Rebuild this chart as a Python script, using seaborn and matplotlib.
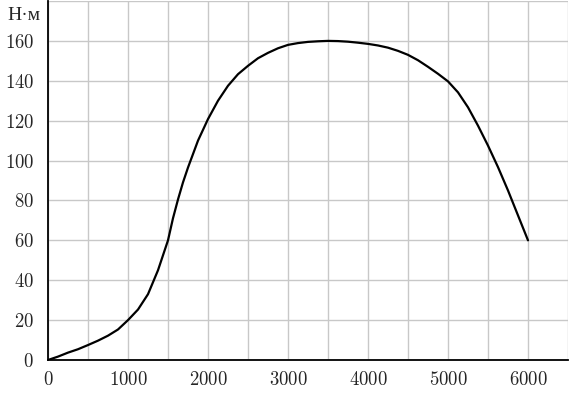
import numpy as np
import matplotlib
matplotlib.use('Agg')
import matplotlib.pyplot as plt
import seaborn as sns

# values every 125 rpm
rpm = [0, 125, 250, 375, 500, 625, 750, 875, 1000, 1125, 1250, 1375, 1500,
       1562, 1625, 1687, 1750, 1875, 2000, 2125, 2250, 2375, 2500, 2625, 2750,
       2875, 3000, 3125, 3250, 3375, 3500, 3625, 3750, 3875, 4000, 4125, 4250,
       4375, 4500, 4625, 4750, 4875, 5000, 5125, 5250, 5375, 5500, 5625,
       5750, 5875, 6000]
torque = [0, 1.7, 3.7, 5.4, 7.5, 9.7, 12.2, 15.3, 20, 25.3, 33, 45, 60,
          71, 80.5, 89, 96.5, 110, 120.8, 130, 137.5, 143.3, 147.5, 151.3, 154,
          156.3, 158, 158.9, 159.5, 159.8, 160, 159.9, 159.6, 159.1, 158.5, 157.7,
          156.6, 155, 153, 150.3, 147, 143.5, 139.7, 134.2, 126.7, 117.5, 107.5,
          96.7, 85, 72.5, 60]

x_ticks = [0, 1000, 2000, 3000, 4000, 5000, 6000]
y_ticks = [0, 20, 40, 60, 80, 100, 120, 140, 160]
unit_label = 'Н·м'

sns.set_style('white')
plt.rcParams['font.family'] = ['cmr10', 'DejaVu Serif']
plt.rcParams['axes.formatter.use_mathtext'] = True
plt.rcParams['font.size'] = 13.5

fig = plt.figure(figsize=(5.69, 4.01), dpi=100)
ax = fig.add_axes([48 / 569, 41 / 401, 520 / 569, 359 / 401])

sns.lineplot(x=rpm, y=torque, ax=ax, color='black', linewidth=1.6, zorder=3)

ax.set_xlim(0, 6500)
ax.set_ylim(0, 180)
ax.set_xticks(x_ticks)
ax.set_yticks(y_ticks)
ax.set_xticks(np.arange(500, 6501, 1000), minor=True)
ax.set_yticks([180], minor=True)
ax.grid(True, which='both', color='#c8c8c8', linewidth=1.0)
ax.set_axisbelow(True)
ax.tick_params(which='both', length=0)
ax.tick_params(axis='x', pad=8)
ax.tick_params(axis='y', pad=10)

for s in ['top', 'right']:
    ax.spines[s].set_visible(False)
for s in ['left', 'bottom']:
    ax.spines[s].set_color('black')
    ax.spines[s].set_linewidth(1.3)
    ax.spines[s].set_zorder(4)

ax.text(-100, 172.5, unit_label, ha='right', va='center', fontsize=14,
        family=['Liberation Serif'])
ax.set_xlabel('')
ax.set_ylabel('')

fig.savefig('out.png', dpi=100)
